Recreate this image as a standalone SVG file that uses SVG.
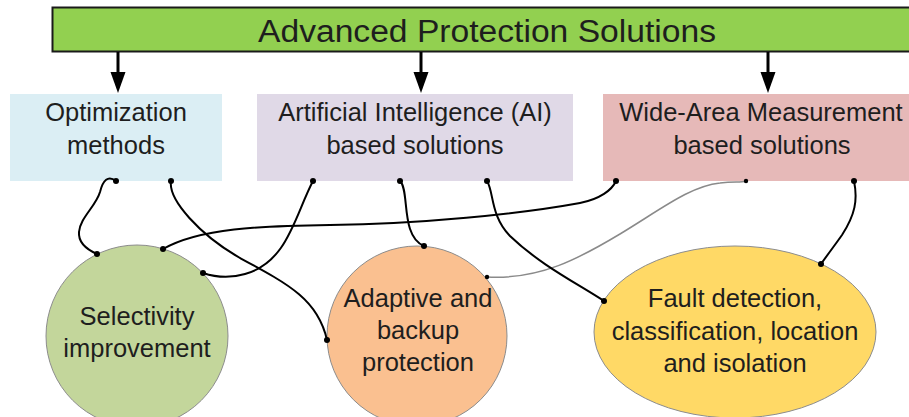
<svg xmlns="http://www.w3.org/2000/svg" width="909" height="417" viewBox="0 0 909 417">
  <style>
    .lbl { font-family: "Liberation Sans", Arial, sans-serif; font-size: 25.5px; fill: #1e1e1e; text-anchor: middle; }
    .title { font-family: "Liberation Sans", Arial, sans-serif; font-size: 31px; fill: #1e1e1e; text-anchor: middle; }
    .box { stroke: none; }
    .bubble { stroke: #8c8c8c; stroke-width: 1; }
    .link { fill: none; stroke: #000; stroke-width: 2; }
    .link-light { fill: none; stroke: #8a8a8a; stroke-width: 1.5; }
    .dot { fill: #000; }
    .stem { stroke: #000; stroke-width: 3; }
    .tip { fill: #000; }
  </style>
  <rect width="909" height="417" fill="#ffffff"/>

  <!-- top banner -->
  <g id="banner">
    <rect x="52.5" y="7.5" width="870" height="44" fill="#92d050" stroke="#1a1a1a" stroke-width="2"/>
    <text class="title" x="487" y="42" textLength="458" lengthAdjust="spacingAndGlyphs">Advanced Protection Solutions</text>
  </g>

  <!-- banner arrows -->
  <g id="arrows">
    <line class="stem" x1="118" y1="52" x2="118" y2="76"/>
    <polygon class="tip" points="110.5,72 125.5,72 118,93"/>
    <line class="stem" x1="421" y1="52" x2="421" y2="76"/>
    <polygon class="tip" points="413.5,72 428.5,72 421,93"/>
    <line class="stem" x1="768" y1="52" x2="768" y2="76"/>
    <polygon class="tip" points="760.5,72 775.5,72 768,93"/>
  </g>

  <!-- category boxes -->
  <g id="optimization">
    <rect class="box" x="10" y="94" width="212" height="87" fill="#dbeef4"/>
    <text class="lbl" x="116" y="121">Optimization</text>
    <text class="lbl" x="116" y="154">methods</text>
  </g>
  <g id="ai">
    <rect class="box" x="257" y="94" width="316" height="87" fill="#e0d9e7"/>
    <text class="lbl" x="415" y="121">Artificial Intelligence (AI)</text>
    <text class="lbl" x="415" y="154">based solutions</text>
  </g>
  <g id="wam">
    <rect class="box" x="603" y="94" width="320" height="87" fill="#e6b9b8"/>
    <text class="lbl" x="761" y="121">Wide-Area Measurement</text>
    <text class="lbl" x="762" y="154">based solutions</text>
  </g>

  <!-- outcome bubbles -->
  <g id="selectivity">
    <circle class="bubble" cx="137" cy="336" r="91" fill="#c3d69b"/>
    <text class="lbl" x="137" y="325">Selectivity</text>
    <text class="lbl" x="137" y="357">improvement</text>
  </g>
  <g id="adaptive">
    <circle class="bubble" cx="417" cy="336" r="90" fill="#fac090"/>
    <text class="lbl" x="418" y="307">Adaptive and</text>
    <text class="lbl" x="418" y="339">backup</text>
    <text class="lbl" x="418" y="371">protection</text>
  </g>
  <g id="fault">
    <ellipse class="bubble" cx="735" cy="332" rx="141" ry="86" fill="#ffd966"/>
    <text class="lbl" x="735" y="307">Fault detection,</text>
    <text class="lbl" x="735" y="340">classification, location</text>
    <text class="lbl" x="735" y="372">and isolation</text>
  </g>

  <!-- connectors -->
  <g id="connectors">
    <path class="link" d="M116,181 C108,175 103,180 100,192 C96,206 80,218 79,232 C78,244 88,250 97,254"/>
    <path class="link" d="M171,181 C168,200 200,235 240,258 C290,285 318,300 327,340"/>
    <path class="link" d="M313,181 C295,215 288,262 245,274 C228,279 212,276 203,273"/>
    <path class="link" d="M400,181 C410,190 400,236 424,246"/>
    <path class="link" d="M163,249 C200,228 260,226 330,225 C420,224 520,214 580,203 C600,199 612,190 616,181"/>
    <path class="link-light" d="M487,277 C540,280 580,258 620,234 C660,210 690,186 720,183 C735,181 740,183 746,181"/>
    <path class="link" d="M487,181 C494,192 490,215 510,236 C540,265 580,285 604,301"/>
    <path class="link" d="M854,181 C858,200 855,215 842,235 C835,245 828,254 821,264"/>

    <circle class="dot" cx="116" cy="181" r="3"/>
    <circle class="dot" cx="171" cy="181" r="3"/>
    <circle class="dot" cx="313" cy="181" r="3"/>
    <circle class="dot" cx="400" cy="181" r="3"/>
    <circle class="dot" cx="487" cy="181" r="3"/>
    <circle class="dot" cx="616" cy="181" r="3"/>
    <circle class="dot" cx="746" cy="181" r="2.2"/>
    <circle class="dot" cx="854" cy="181" r="3"/>
    <circle class="dot" cx="97" cy="254" r="3"/>
    <circle class="dot" cx="163" cy="249" r="3"/>
    <circle class="dot" cx="203" cy="273" r="3"/>
    <circle class="dot" cx="424" cy="246" r="3"/>
    <circle class="dot" cx="327" cy="340" r="3"/>
    <circle class="dot" cx="487" cy="277" r="2.2"/>
    <circle class="dot" cx="604" cy="301" r="3"/>
    <circle class="dot" cx="821" cy="264" r="3"/>
  </g>
</svg>
